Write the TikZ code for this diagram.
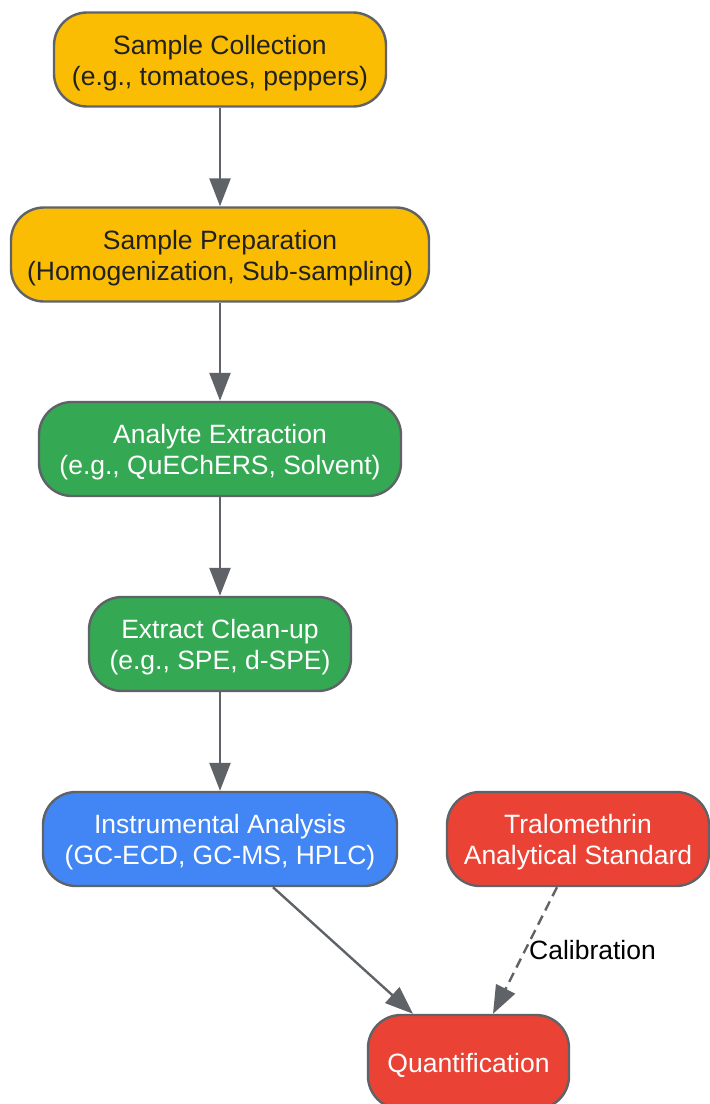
\documentclass[tikz,border=0pt]{standalone}
\usepackage{fontspec}
\setmainfont{Liberation Sans}
\usepackage{xcolor}
\usetikzlibrary{arrows.meta}
\usetikzlibrary{shapes}

\definecolor{edgegrey}{HTML}{5F6368}
\definecolor{sampleyellow}{HTML}{FBBC04}
\definecolor{prepgreen}{HTML}{34A853}
\definecolor{instrblue}{HTML}{4285F4}
\definecolor{quantred}{HTML}{EA4335}
\definecolor{darktext}{HTML}{202124}

\newcommand{\topstrut}{\rule{0pt}{25.5pt}}

\tikzset{
    stagebox/.style={draw=edgegrey, line width=2.4pt, rounded corners=33pt,
        minimum height=94pt, align=center, inner sep=0pt,
        font=\fontsize{26.5}{31}\selectfont},
    flow/.style={draw=edgegrey, line width=2.4pt,
        -{Triangle[length=28pt,width=21pt]}}
}

\begin{document}
\begin{tikzpicture}[x=1pt, y=-1pt]
        \useasboundingbox (0, 0) rectangle (710, 1104);

        \node[stagebox, fill=sampleyellow, text=darktext, minimum width=332pt] (collect) at (220, 59.5)
            {\topstrut Sample Collection\\(e.g., tomatoes, peppers)};
        \node[stagebox, fill=sampleyellow, text=darktext, minimum width=418pt] (prep) at (220, 254.5)
            {\topstrut Sample Preparation\\(Homogenization, Sub-sampling)};
        \node[stagebox, fill=prepgreen, text=white, minimum width=362pt] (extract) at (220, 449)
            {\topstrut Analyte Extraction\\(e.g., QuEChERS, Solvent)};
        \node[stagebox, fill=prepgreen, text=white, minimum width=262pt] (cleanup) at (220, 644)
            {\topstrut Extract Clean-up\\(e.g., SPE, d-SPE)};
        \node[stagebox, fill=instrblue, text=white, minimum width=354pt] (instr) at (220, 839)
            {\topstrut Instrumental Analysis\\(GC-ECD, GC-MS, HPLC)};
        \node[stagebox, fill=quantred, text=white, minimum width=262pt] (standard) at (578, 839)
            {\topstrut Tralomethrin\\Analytical Standard};
        \node[stagebox, fill=quantred, text=white, minimum width=201pt] (quant) at (468.5, 1062)
            {\topstrut Quantification};

        \draw[flow] (collect) -- (prep);
        \draw[flow] (prep) -- (extract);
        \draw[flow] (extract) -- (cleanup);
        \draw[flow] (cleanup) -- (instr);
        \draw[flow] ([xshift=53pt]instr.south) -- ([xshift=-55.5pt]quant.north);
        \draw[flow, dash pattern=on 10pt off 6pt] ([xshift=-21pt]standard.south) -- ([xshift=24.5pt]quant.north)
            node[midway, right, inner sep=3pt, text=black, font=\fontsize{26.5}{31}\selectfont] {Calibration};
\end{tikzpicture}
\end{document}
